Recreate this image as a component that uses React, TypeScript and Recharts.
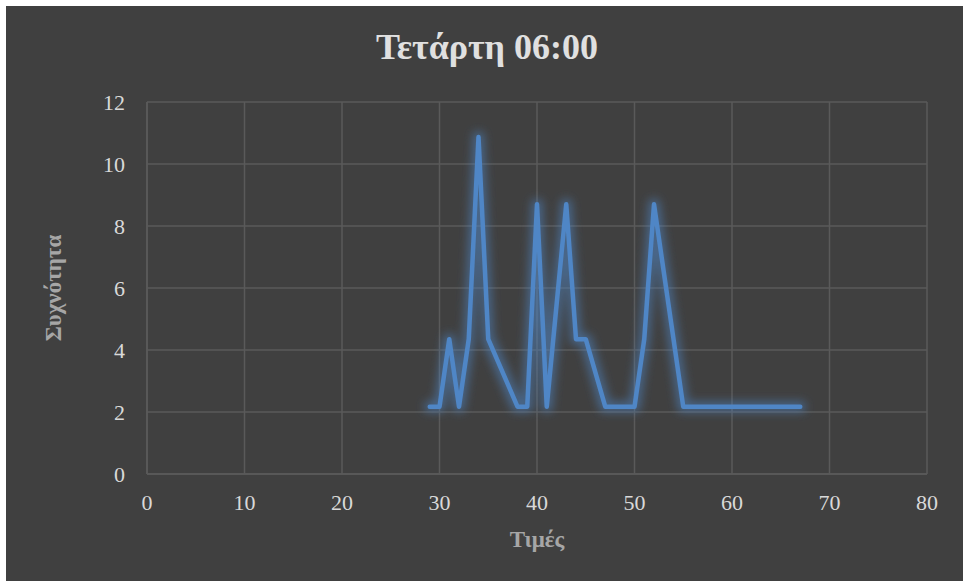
import { LineChart, Line, XAxis, YAxis, CartesianGrid } from "recharts"

// values (Τιμές) and their relative frequency in % (Συχνότητα)
const values = [29, 30, 31, 32, 33, 34, 35, 38, 39, 40, 41, 43, 44, 45, 47, 50, 51, 52, 53, 54, 55, 67]
const frequency = [
  2.17, 2.17, 4.35, 2.17, 4.35, 10.87, 4.35, 2.17, 2.17, 8.7, 2.17, 8.7, 4.35, 4.35, 2.17, 2.17, 4.35,
  8.7, 6.52, 4.35, 2.17, 2.17,
]
const xTicks = [0, 10, 20, 30, 40, 50, 60, 70, 80]
const yTicks = [0, 2, 4, 6, 8, 10, 12]

const data = values.map((v, i) => ({ value: v, freq: frequency[i] }))

const serif = '"Liberation Serif", "Times New Roman", serif'
const gridColor = "#5a5a5a"
const tickColor = "#d9d9d9"
const axisTitleColor = "#a6a6a6"

export default function App() {
  return (
    <div style={{ position: "absolute", left: 0, top: 0, width: 963, height: 581, background: "#ffffff", overflow: "hidden" }}>
      <div style={{ position: "absolute", left: 6, top: 6, right: 0, bottom: 0, background: "#404040" }} />
      <div
        style={{
          position: "absolute",
          left: 0,
          width: 974,
          top: 24,
          textAlign: "center",
          fontFamily: serif,
          fontWeight: "bold",
          fontSize: 36,
          color: "#e0e0e0",
          lineHeight: "46px",
        }}
      >
        Τετάρτη 06:00
      </div>
      <div
        style={{
          position: "absolute",
          left: 537 - 75,
          width: 150,
          top: 526,
          textAlign: "center",
          fontFamily: serif,
          fontWeight: "bold",
          fontSize: 23,
          color: axisTitleColor,
          lineHeight: "28px",
        }}
      >
        Τιμές
      </div>
      <div
        style={{
          position: "absolute",
          left: 54 - 100,
          width: 200,
          top: 288 - 14,
          textAlign: "center",
          fontFamily: serif,
          fontWeight: "bold",
          fontSize: 23,
          color: axisTitleColor,
          lineHeight: "28px",
          transform: "rotate(-90deg)",
        }}
      >
        Συχνότητα
      </div>
      <LineChart
        width={963}
        height={581}
        data={data}
        margin={{ top: 102, right: 36, bottom: 67, left: 87 }}
        style={{ position: "absolute", left: 0, top: 0 }}
      >
        <defs>
          <filter id="glow" x="-25%" y="-25%" width="150%" height="150%">
            <feMorphology in="SourceGraphic" operator="dilate" radius="3" result="thick" />
            <feGaussianBlur in="thick" stdDeviation="5" result="blur" />
            <feComponentTransfer in="blur" result="soft">
              <feFuncA type="linear" slope="0.55" />
            </feComponentTransfer>
            <feMerge>
              <feMergeNode in="soft" />
              <feMergeNode in="SourceGraphic" />
            </feMerge>
          </filter>
        </defs>
        <CartesianGrid stroke={gridColor} strokeWidth={1.5} />
        <XAxis
          dataKey="value"
          type="number"
          domain={[0, 80]}
          ticks={xTicks}
          height={40}
          tickLine={false}
          tickSize={0}
          tickMargin={20}
          axisLine={{ stroke: gridColor, strokeWidth: 1.5 }}
          tick={{ fill: tickColor, fontSize: 22, fontFamily: serif }}
        />
        <YAxis
          type="number"
          domain={[0, 12]}
          ticks={yTicks}
          width={60}
          tickLine={false}
          tickSize={0}
          tickMargin={22}
          axisLine={{ stroke: gridColor, strokeWidth: 1.5 }}
          tick={{ fill: tickColor, fontSize: 22, fontFamily: serif }}
        />
        <Line
          type="linear"
          dataKey="freq"
          stroke="#4f86c6"
          strokeWidth={4.5}
          strokeLinejoin="round"
          strokeLinecap="round"
          dot={false}
          filter="url(#glow)"
          isAnimationActive={false}
        />
      </LineChart>
    </div>
  )
}
